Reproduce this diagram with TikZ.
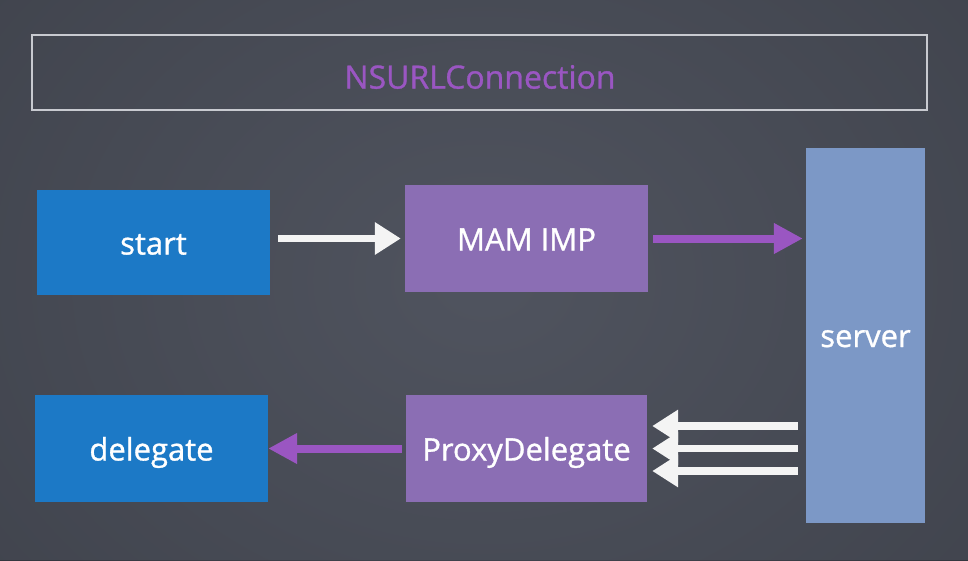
\documentclass[tikz,border=0pt]{standalone}
\usepackage{fontspec}
\setmainfont{Open Sans}
\usetikzlibrary{arrows.meta}
\definecolor{bgc}{HTML}{50545F}
\definecolor{bgdark}{HTML}{33363E}
\definecolor{boxblue}{HTML}{1C79C6}
\definecolor{boxpurple}{HTML}{8B6EB4}
\definecolor{boxserver}{HTML}{7C98C6}
\definecolor{arrowpurple}{HTML}{9A56C2}
\definecolor{framegray}{HTML}{C8CAD0}
\definecolor{chalk}{HTML}{F4F4F4}
\begin{document}
\begin{tikzpicture}[x=1pt,y=-1pt,
  box/.style={rectangle, inner sep=0pt, draw=none, text=white, text height=24pt, text depth=0pt,
    font=\fontsize{31}{34}\selectfont\addfontfeature{FakeBold=1}},
  bluebox/.style={box, fill=boxblue},
  purplebox/.style={box, fill=boxpurple},
  serverbox/.style={box, fill=boxserver},
  framebox/.style={rectangle, inner sep=0pt, draw=framegray, line width=1.2pt},
  titletext/.style={text=arrowpurple, font=\fontsize{32}{36}\selectfont\addfontfeature{FakeBold=1}},
  chalkarrow/.style={draw=chalk, line width=7.5pt, -{Triangle[length=26pt,width=31pt]}},
  purplearrow/.style={draw=arrowpurple, line width=8pt, -{Triangle[length=29pt,width=29pt]}}
]
% background
\useasboundingbox (0,0) rectangle (968,560);
\shade[inner color=bgc, outer color=bgdark] (-120,-200) rectangle (1088,760);
\fill[bgc, opacity=0.5] (0,0) rectangle (968,560);

% header
\node[framebox, minimum width=895pt, minimum height=75pt] (header) at (479.5,72.5) {};
\node[titletext] (title) at (480,77) {NSURLConnection};

% boxes
\node[bluebox, minimum width=233pt, minimum height=105pt] (start) at (153.5,242.5) {start};
\node[purplebox, minimum width=243pt, minimum height=107pt] (mam) at (526.5,238.5) {MAM IMP};
\node[serverbox, minimum width=119pt, minimum height=375pt] (server) at (865.5,335) {server};
\node[bluebox, minimum width=233pt, minimum height=107pt] (delegate) at (151.5,448.5) {delegate};
\node[purplebox, minimum width=241pt, minimum height=107pt] (proxy) at (526.5,448.5) {ProxyDelegate};

% helper coordinates
\coordinate (s1) at (mam.east -| server.west);
\coordinate (s2) at (proxy.east -| server.west);

% arrows
\draw[chalkarrow] ([xshift=8pt,yshift=4pt]start.east) -- ([xshift=-4pt]mam.west);
\draw[purplearrow] ([xshift=5pt]mam.east) -- ([xshift=-3pt]s1);
\draw[purplearrow] ([xshift=-4pt]proxy.west) -- (delegate.east);
\draw[chalkarrow] ([xshift=-8pt,yshift=22.5pt]s2) -- ([xshift=5pt,yshift=22.5pt]proxy.east);
\draw[chalkarrow] ([xshift=-8pt]s2) -- ([xshift=5pt]proxy.east);
\draw[chalkarrow] ([xshift=-8pt,yshift=-22.5pt]s2) -- ([xshift=5pt,yshift=-22.5pt]proxy.east);
\end{tikzpicture}
\end{document}
